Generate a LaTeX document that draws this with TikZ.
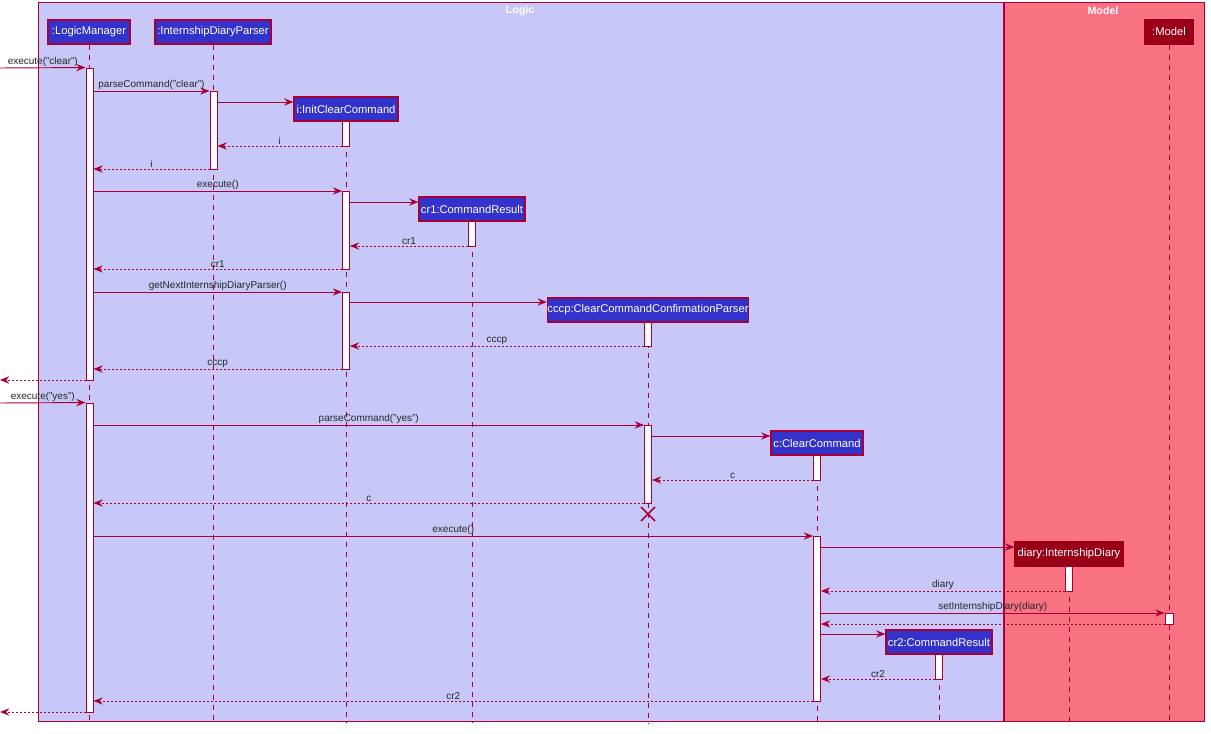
\documentclass[tikz,border=0pt]{standalone}
\usepackage{fontspec}
\setmainfont{Liberation Sans}
\usetikzlibrary{arrows.meta}
\definecolor{bord}{HTML}{A80036}
\definecolor{logicfill}{HTML}{C8C8F8}
\definecolor{modelfill}{HTML}{F97282}
\definecolor{partblue}{HTML}{3333CC}
\definecolor{partred}{HTML}{990018}
\tikzset{
  grp/.style={draw=bord, line width=0.75pt},
  grptitle/.style={text=white, font=\bfseries\fontsize{8}{9}\selectfont, inner sep=0pt},
  part/.style={draw=bord, fill=partblue, line width=0.9pt, text=white, minimum height=18pt, inner sep=0pt, font=\fontsize{8.4}{9}\selectfont},
  partm/.style={part, fill=partred, draw=partred},
  life/.style={draw=bord, line width=0.7pt, dash pattern=on 3.75pt off 3.75pt},
  act/.style={draw=bord, fill=white, line width=0.7pt, minimum width=5.25pt, inner sep=0pt},
  msg/.style={draw=bord, line width=0.7pt, -{Stealth[length=7pt,width=5.5pt,inset=2.4pt]}},
  ret/.style={msg, dash pattern=on 1.5pt off 1.5pt},
  lbl/.style={midway, above, inner sep=0.4pt, text=black!85, font=\fontsize{7.5}{8}\selectfont},
}
\newcommand\actv[4]{\pgfmathsetmacro\acth{(#4-#3)*0.75}\node[act,minimum height=\acth pt] (#1) at (#2,{(#3+#4)/2}) {};}
\newcommand\msgto[4]{\draw[msg] (#1 |- 0,#3) -- node[lbl]{#4} (#2 |- 0,#3);}
\newcommand\retto[4]{\draw[ret] (#1 |- 0,#3) -- node[lbl]{#4} (#2 |- 0,#3);}
\begin{document}
\begin{tikzpicture}[x=0.75pt,y=-0.75pt]
\useasboundingbox (0,0) rectangle (1211,734);
\fill[white] (0,0) rectangle (1211,734);
% groups
\filldraw[grp, fill=logicfill] (38,3) rectangle (1003,721);
\filldraw[grp, fill=modelfill] (1004,3) rectangle (1204,721);
\node[grptitle] (tlogic) at (520,11) {Logic};
\node[grptitle] (tmodel) at (1103,11) {Model};
% participants
\node[part, minimum width=61.5pt] (lm) at (89,32) {:LogicManager};
\node[part, minimum width=87pt] (idp) at (213,32) {:InternshipDiaryParser};
\node[part, minimum width=78pt] (icc) at (346,109) {i:InitClearCommand};
\node[part, minimum width=79.5pt] (cr1) at (472,209) {cr1:CommandResult};
\node[part, minimum width=150pt] (cccp) at (648,310) {cccp:ClearCommandConfirmationParser};
\node[part, minimum width=69pt] (cc) at (817,443) {c:ClearCommand};
\node[partm, minimum width=81pt] (diary) at (1069,554) {diary:InternshipDiary};
\node[partm, minimum width=36pt] (model) at (1169,32) {:Model};
\node[part, minimum width=79.5pt] (cr2) at (939,642) {cr2:CommandResult};
% lifeline ends
\coordinate (lmend) at (89,723);
\coordinate (idpend) at (213,723);
\coordinate (iccend) at (346,723);
\coordinate (cr1end) at (472,723);
\coordinate (cccpend) at (648,723);
\coordinate (ccend) at (817,723);
\coordinate (diaryend) at (1069,723);
\coordinate (modelend) at (1169,723);
\coordinate (cr2end) at (939,723);
\foreach \p in {lm,idp,icc,cr1,cccp,cc,diary,model,cr2}{\draw[life] (\p.south) -- (\p end);}
% activations
\actv{lma1}{89.5}{68}{380}
\actv{lma2}{89.5}{403}{712}
\actv{pa1}{213.5}{91}{169}
\actv{icca1}{346}{121}{146}
\actv{icca2}{346}{191}{269}
\actv{icca3}{346}{292}{369}
\actv{cr1a}{472}{221}{246}
\actv{cccpa1}{648}{322}{346}
\actv{cccpa2}{648}{425}{503}
\actv{ca1}{817}{455}{480}
\actv{ca2}{817}{536}{701}
\actv{da1}{1069}{566}{591}
\actv{cr2a}{939}{654}{679}
\pgfmathsetmacro\acth{11*0.75}
\node[act, minimum width=6pt, minimum height=\acth pt] (ma1) at (1169,618.5) {};
% external coordinates
\coordinate (in1) at (0,68);
\coordinate (out1) at (0,380);
\coordinate (in2) at (0,403);
\coordinate (out2) at (0,712);
% messages
\draw[msg] (in1) -- node[lbl]{execute("clear")} (lma1.north west);
\msgto{lma1.east}{pa1.west}{91}{parseCommand("clear")}
\msgto{pa1.east}{icc.west}{102}{}
\retto{icca1.west}{pa1.east}{146}{i}
\retto{pa1.west}{lma1.east}{169}{i}
\msgto{lma1.east}{icca2.west}{191}{execute()}
\msgto{icca2.east}{cr1.west}{202}{}
\retto{cr1a.west}{icca2.east}{246}{cr1}
\retto{icca2.west}{lma1.east}{269}{cr1}
\msgto{lma1.east}{icca3.west}{292}{getNextInternshipDiaryParser()}
\msgto{icca3.east}{cccp.west}{302}{}
\retto{cccpa1.west}{icca3.east}{346}{cccp}
\retto{icca3.west}{lma1.east}{369}{cccp}
\draw[ret] (lma1.west |- out1) -- (out1);
\draw[msg] (in2) -- node[lbl]{execute("yes")} (lma2.north west);
\msgto{lma2.east}{cccpa2.west}{425}{parseCommand("yes")}
\msgto{cccpa2.east}{cc.west}{436}{}
\retto{ca1.west}{cccpa2.east}{480}{c}
\retto{cccpa2.west}{lma2.east}{503}{c}
\coordinate (destroy) at (648,514);
\draw[draw=bord, line width=1.1pt] ([shift={(-7,-7)}]destroy) -- ([shift={(7,7)}]destroy) ([shift={(-7,7)}]destroy) -- ([shift={(7,-7)}]destroy);
\msgto{lma2.east}{ca2.west}{536}{execute()}
\msgto{ca2.east}{diary.west}{547}{}
\retto{da1.west}{ca2.east}{591}{diary}
\msgto{ca2.east}{ma1.west}{613}{setInternshipDiary(diary)}
\retto{ma1.west}{ca2.east}{624}{}
\msgto{ca2.east}{cr2.west}{634}{}
\retto{cr2a.west}{ca2.east}{679}{cr2}
\retto{ca2.west}{lma2.east}{701}{cr2}
\draw[ret] (lma2.west |- out2) -- (out2);
\end{tikzpicture}
\end{document}
